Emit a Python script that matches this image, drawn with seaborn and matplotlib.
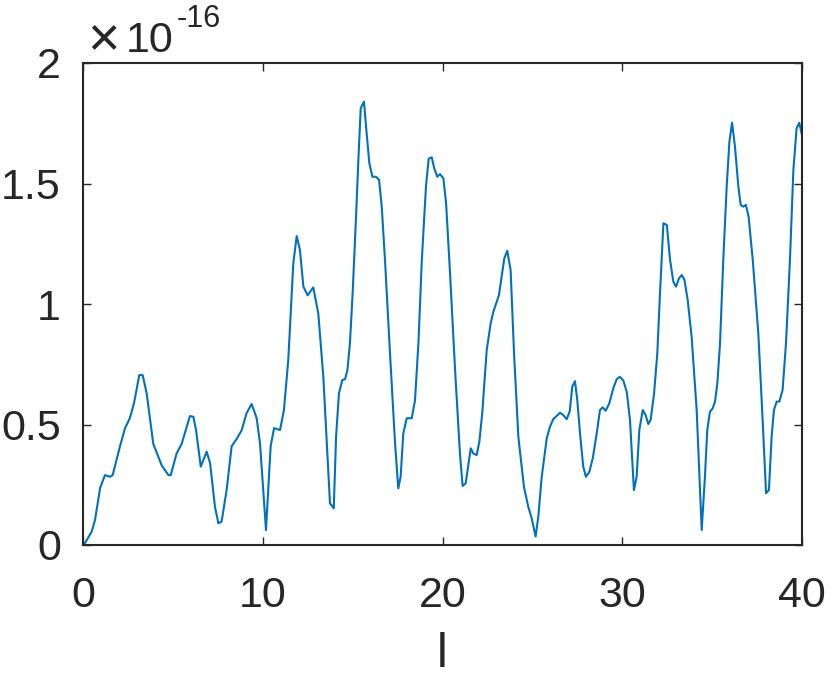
#!/usr/bin/env python3
"""
Line plot of the residual versus l (MATLAB-style look), saved to out.png.
"""

import numpy as np
import pandas as pd
import matplotlib
matplotlib.use("Agg")
import matplotlib.pyplot as plt
import matplotlib.ticker as mticker
import seaborn as sns

# values (y in units of 1e-16)
l_vals = [
    0.0, 0.11, 0.48, 0.67, 0.95, 1.22, 1.5, 1.65, 2.06, 2.34, 2.61, 2.84, 3.13, 3.32,
    3.54, 3.91, 4.38, 4.75, 4.88, 5.21, 5.49, 5.95, 6.14, 6.29, 6.55, 6.88, 7.07, 7.34,
    7.53, 7.71, 7.99, 8.27, 8.55, 8.83, 9.1, 9.38, 9.66, 9.85, 10.18, 10.44, 10.63,
    10.96, 11.18, 11.42, 11.7, 11.89, 12.07, 12.26, 12.5, 12.81, 13.09, 13.37, 13.74,
    13.95, 14.08, 14.24, 14.43, 14.58, 14.71, 14.85, 15.0, 15.19, 15.32, 15.45, 15.63,
    15.78, 15.93, 16.1, 16.3, 16.47, 16.62, 16.8, 17.08, 17.36, 17.54, 17.67, 17.82,
    18.01, 18.29, 18.47, 18.66, 18.85, 19.08, 19.23, 19.4, 19.54, 19.71, 19.86, 20.05,
    20.2, 20.42, 20.7, 20.97, 21.12, 21.29, 21.57, 21.71, 21.9, 22.05, 22.21, 22.46,
    22.68, 22.83, 23.14, 23.29, 23.44, 23.6, 23.79, 23.98, 24.22, 24.53, 24.77, 24.96,
    25.18, 25.33, 25.52, 25.8, 25.98, 26.16, 26.54, 26.72, 26.91, 27.08, 27.22, 27.37,
    27.5, 27.65, 27.83, 27.98, 28.17, 28.36, 28.58, 28.76, 28.91, 29.08, 29.28, 29.5,
    29.69, 29.87, 30.06, 30.25, 30.43, 30.65, 30.8, 30.95, 31.14, 31.3, 31.45, 31.58,
    31.77, 31.95, 32.1, 32.29, 32.48, 32.66, 32.84, 32.99, 33.16, 33.31, 33.46, 33.64,
    33.86, 34.14, 34.42, 34.6, 34.73, 34.88, 35.03, 35.16, 35.29, 35.44, 35.62, 35.81,
    35.96, 36.11, 36.27, 36.46, 36.59, 36.74, 36.88, 37.03, 37.26, 37.57, 37.81, 38.0,
    38.16, 38.31, 38.44, 38.59, 38.74, 38.92, 39.11, 39.33, 39.52, 39.7, 39.85, 40.0,
]
err_vals = [
    0.0, 0.008, 0.055, 0.104, 0.236, 0.29, 0.283, 0.29, 0.41, 0.485, 0.527, 0.589, 0.705,
    0.705, 0.63, 0.42, 0.33, 0.29, 0.29, 0.38, 0.42, 0.535, 0.532, 0.477, 0.325, 0.387,
    0.34, 0.159, 0.09, 0.097, 0.228, 0.41, 0.44, 0.477, 0.547, 0.585, 0.527, 0.42, 0.062,
    0.41, 0.485, 0.477, 0.56, 0.768, 1.169, 1.282, 1.224, 1.072, 1.036, 1.069, 0.961,
    0.698, 0.173, 0.152, 0.45, 0.63, 0.685, 0.688, 0.726, 0.837, 1.044, 1.362, 1.598,
    1.812, 1.84, 1.708, 1.584, 1.528, 1.528, 1.515, 1.404, 1.183, 0.795, 0.422, 0.235,
    0.283, 0.463, 0.526, 0.526, 0.6, 0.837, 1.183, 1.487, 1.603, 1.609, 1.563, 1.528,
    1.539, 1.521, 1.418, 1.127, 0.726, 0.38, 0.245, 0.256, 0.401, 0.38, 0.373, 0.429,
    0.546, 0.809, 0.92, 0.968, 1.037, 1.113, 1.19, 1.221, 1.141, 0.795, 0.449, 0.242,
    0.159, 0.111, 0.035, 0.118, 0.283, 0.443, 0.491, 0.522, 0.549, 0.539, 0.522, 0.555,
    0.657, 0.68, 0.6, 0.463, 0.325, 0.283, 0.304, 0.36, 0.463, 0.56, 0.571, 0.557, 0.588,
    0.65, 0.688, 0.698, 0.682, 0.636, 0.519, 0.228, 0.283, 0.477, 0.56, 0.539, 0.502,
    0.519, 0.629, 0.795, 1.044, 1.335, 1.328, 1.183, 1.093, 1.072, 1.107, 1.12, 1.1,
    1.017, 0.864, 0.56, 0.062, 0.283, 0.477, 0.553, 0.567, 0.595, 0.671, 0.837, 1.183,
    1.487, 1.673, 1.752, 1.653, 1.487, 1.411, 1.404, 1.411, 1.362, 1.183, 0.878, 0.519,
    0.215, 0.228, 0.449, 0.56, 0.595, 0.595, 0.643, 0.837, 1.183, 1.556, 1.729, 1.752,
    1.70,
]
x_ticks = [0, 10, 20, 30, 40]
y_ticks = [0, 0.5, 1.0, 1.5, 2.0]
y_scale = 1e-16
x_label = "l"

line_color = "#0072BD"
axis_color = "#262626"

df = pd.DataFrame({"l": l_vals, "err": np.array(err_vals) * y_scale})

sns.set_theme(style="ticks")
plt.rcParams["font.family"] = ["Liberation Sans", "DejaVu Sans"]

W, H = 830, 677
fig = plt.figure(figsize=(W / 100, H / 100), dpi=100)
ax = fig.add_axes([83 / W, 1 - 545 / H, (802 - 83) / W, (545 - 63) / H])

sns.lineplot(data=df, x="l", y="err", ax=ax, color=line_color, linewidth=1.5, sort=False)

ax.set_xlim(0, 40)
ax.set_ylim(0, 2 * y_scale)
ax.set_xticks(x_ticks)
ax.set_yticks([t * y_scale for t in y_ticks])
# MATLAB-like labels: 0, 0.5, 1, 1.5, 2 with the exponent written above the axis
ax.yaxis.set_major_formatter(mticker.FuncFormatter(lambda v, p: f"{v / y_scale:g}"))

# exponent label "x10^-16" (pieces placed separately to get MATLAB's big times sign)
fig.text(87 / W, 1 - 55 / H, "\u00d7", fontsize=40, color=axis_color,
         ha="left", va="baseline")
fig.text(126 / W, 1 - 52 / H, "10", fontsize=31, color=axis_color,
         ha="left", va="baseline")
fig.text(177 / W, 1 - 27 / H, "-16", fontsize=22, color=axis_color,
         ha="left", va="baseline")

ax.set_xlabel(x_label, fontsize=35, color=axis_color, labelpad=12)
ax.set_ylabel("")

for side in ["top", "right", "bottom", "left"]:
    ax.spines[side].set_visible(True)
    ax.spines[side].set_color(axis_color)
    ax.spines[side].set_linewidth(1.5)

ax.tick_params(axis="both", which="major", direction="in", length=6, width=1.0,
               colors=axis_color, labelsize=31, top=True, right=True)
ax.tick_params(axis="x", pad=22)
ax.tick_params(axis="y", pad=16)

fig.savefig("out.png", dpi=100, facecolor="white")
